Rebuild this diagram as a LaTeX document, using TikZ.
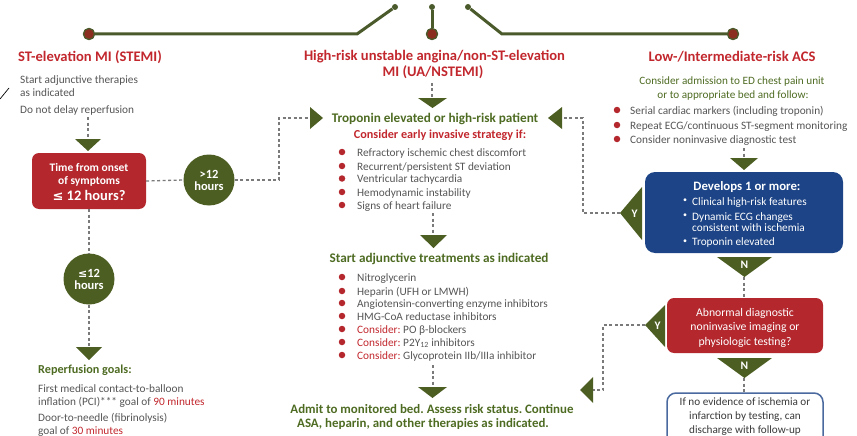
\documentclass[tikz,border=0pt]{standalone}
\usepackage{fontspec}
\setmainfont{Carlito}
\newfontfamily\dv{DejaVu Sans}
\usetikzlibrary{calc}
\definecolor{accred}{HTML}{C1272D}
\definecolor{boxred}{HTML}{B3272D}
\definecolor{olive}{HTML}{4C5E22}
\definecolor{lineolive}{HTML}{4B5A2B}
\definecolor{dotred}{HTML}{8B2E1F}
\definecolor{textgreen}{HTML}{4E6B22}
\definecolor{navy}{HTML}{1D4486}
\definecolor{graytext}{HTML}{555555}
\definecolor{darktext}{HTML}{3A3A3A}
\definecolor{dashgray}{HTML}{7A7A7A}
\frenchspacing
\begin{document}
\frenchspacing
\begin{tikzpicture}[x=1pt,y=-1pt,
  title/.style={font=\fontsize{14.6}{16}\selectfont\bfseries, text=accred, inner sep=0, anchor=base},
  body/.style={font=\fontsize{11.3}{13}\selectfont, text=graytext, inner sep=0, anchor=base west},
  rbody/.style={body, font=\fontsize{11.3}{13}\selectfont},
  gbody/.style={font=\fontsize{11.2}{13}\selectfont, text=textgreen, inner sep=0, anchor=base},
  ghead/.style={font=\fontsize{13.2}{15}\selectfont\bfseries, text=textgreen, inner sep=0, anchor=base},
  wtext/.style={font=\fontsize{11.7}{13}\selectfont, text=white, inner sep=0, anchor=base},
  btext/.style={font=\fontsize{11.3}{13}\selectfont, text=white, inner sep=0, anchor=base west},
  conn/.style={dashgray, line width=1.3pt, dash pattern=on 3pt off 2.5pt},
  tri/.style={fill=olive},
  bul/.style={fill=boxred, circle, inner sep=0, minimum size=6.5pt},
  gcirc/.style={circle, fill=olive, minimum size=51pt, inner sep=0, text=white, font=\fontsize{12.5}{12}\selectfont\bfseries, align=center},
  topline/.style={lineolive, line width=3pt},
  bigdot/.style={circle, fill=dotred, draw=lineolive, line width=1.2pt, minimum size=11pt, inner sep=0},
  smalldot/.style={circle, fill=lineolive, minimum size=6pt, inner sep=0},
  redbox/.style={fill=boxred, rounded corners=7pt, inner sep=0},
  bluebox/.style={fill=navy, rounded corners=10pt, inner sep=0},
  outbox/.style={draw=navy!80, line width=1.5pt, fill=white, rounded corners=9pt, inner sep=0}
]
\useasboundingbox (0,0) rectangle (857,436);

% stray mark
\coordinate (m1) at (0,99); \coordinate (m2) at (9,88);
\draw[black, line width=0.7pt] (m1) -- (m2);

% top connectors
\node[bigdot] (d1) at (89,34) {};
\node[bigdot] (d2) at (432,34) {};
\node[bigdot] (d3) at (733,34) {};
\node[smalldot] (s1) at (395,7) {};
\node[smalldot] (s2) at (432,7) {};
\node[smalldot] (s3) at (468,7) {};
\coordinate (k1) at (357,34); \coordinate (k3) at (502,34);
\draw[topline] (s1) -- (k1) -- (d1);
\draw[topline] (s2) -- (d2);
\draw[topline] (s3) -- (k3) -- (d3);
\node[bigdot] at (d1) {};
\node[bigdot] at (d2) {};
\node[bigdot] at (d3) {};

% ===== left column =====
\node[title] (stemi) at (90,62) {ST-elevation MI (STEMI)};
\node[body] (adj1) at (20,83.5) {Start adjunctive therapies};
\node[body] (adj2) at (20,96.5) {as indicated};
\node[body] (adj3) at (20,113.5) {Do not delay reperfusion};
\coordinate (a1s) at (88,117);
\coordinate (t1) at (88,139);
\draw[conn] (a1s) -- (t1);
\fill[tri] (75,139) -- (101,139) -- (88,151) -- cycle;

\node[redbox, minimum width=114pt, minimum height=56pt] (tbox) at (89,181) {};
\node[wtext, font=\fontsize{11.5}{12}\selectfont\bfseries] (tb1) at (89,171) {Time from onset};
\node[wtext, font=\fontsize{11.5}{12}\selectfont\bfseries] (tb2) at (89,184.5) {of symptoms};
\node[wtext, font=\fontsize{14.5}{16}\selectfont\bfseries] (tb3) at (89,200.5) {{\dv\bfseries\fontsize{13}{16}\selectfont ≤} 12 hours?};

\node[gcirc] (gt12) at (209,180) {>12\\hours};
\node[gcirc] (le12) at (89,279) {{\dv\bfseries\fontsize{11}{12}\selectfont ≤}12\\hours};

\coordinate (c1) at (279,180);
\coordinate (c2) at (279,118);
\coordinate (tl) at (310,118);
\draw[conn] (tbox.east) -- (gt12.west);
\draw[conn] (gt12.east) -- (c1) -- (c2) -- (tl);
\fill[tri] (310,107) -- (323,118) -- (310,129) -- cycle;

\draw[conn] (tbox.south) -- (le12.north);
\coordinate (t2) at (89,347);
\draw[conn] (le12.south) -- (t2);
\fill[tri] (76,347) -- (102,347) -- (89,360) -- cycle;

\node[ghead, anchor=base west, font=\fontsize{12.2}{15}\selectfont\bfseries] (rg) at (38,373.5) {Reperfusion goals:};
\node[body] (rg1) at (38,392) {First medical contact-to-balloon};
\node[body] (rg2) at (38,405.5) {inflation (PCI)*** goal of \textcolor{accred}{90 minutes}};
\node[body] (rg3) at (38,421.5) {Door-to-needle (fibrinolysis)};
\node[body] (rg4) at (38,434) {goal of \textcolor{accred}{30 minutes}};

% ===== middle column =====
\node[title] (ua1) at (434.5,60) {High-risk unstable angina/non-ST-elevation};
\node[title] (ua2) at (433,77) {MI (UA/NSTEMI)};
\coordinate (m0) at (432,83); \coordinate (t3) at (432,98);
\draw[conn] (m0) -- (t3);
\fill[tri] (418,98) -- (447,98) -- (432.5,108) -- cycle;

\node[ghead] (trop) at (435,122.5) {Troponin elevated or high-risk patient};
\node[ghead, font=\fontsize{12.2}{14}\selectfont\bfseries, text=accred] (cons) at (440,138) {Consider early invasive strategy if:};

\foreach \yy/\txt [count=\i] in {152/{Refractory ischemic chest discomfort},
  166/{Recurrent/persistent ST deviation},
  178.5/{Ventricular tachycardia},
  192/{Hemodynamic instability},
  205/{Signs of heart failure}} {
  \node[bul] (ba\i) at (342,\yy) {};
  \node[body] (la\i) at (357,\yy+4) {\txt};
}
\coordinate (m1s) at (433,213); \coordinate (t4) at (433,235);
\draw[conn] (m1s) -- (t4);
\fill[tri] (420,235) -- (447,235) -- (433.5,248) -- cycle;

\node[ghead] (sat) at (439,262) {Start adjunctive treatments as indicated};

\foreach \yy/\txt [count=\i] in {277/{Nitroglycerin},
  291/{Heparin (UFH or LMWH)},
  303/{Angiotensin-converting enzyme inhibitors},
  316/{HMG-CoA reductase inhibitors},
  329/{\textcolor{accred}{Consider:} PO β-blockers},
  342/{\textcolor{accred}{Consider:} P2Y\textsubscript{12} inhibitors},
  355/{\textcolor{accred}{Consider:} Glycoprotein IIb/IIIa inhibitor}} {
  \node[bul] (bb\i) at (342,\yy) {};
  \node[body] (lb\i) at (357,\yy+4) {\txt};
}
\coordinate (m2s) at (433,365); \coordinate (t5) at (433,387);
\draw[conn] (m2s) -- (t5);
\fill[tri] (418,387) -- (447,387) -- (432.5,398) -- cycle;

\node[ghead, font=\fontsize{12.9}{15}\selectfont\bfseries] (adm1) at (432,413) {Admit to monitored bed. Assess risk status. Continue};
\node[ghead, font=\fontsize{12.9}{15}\selectfont\bfseries] (adm2) at (423,427) {ASA, heparin, and other therapies as indicated.};

% ===== right column =====
\node[title] (low) at (732,62) {Low-/Intermediate-risk ACS};
\node[gbody] (ca1) at (732,84.5) {Consider admission to ED chest pain unit};
\node[gbody] (ca2) at (733,99) {or to appropriate bed and follow:};
\foreach \yy/\txt [count=\i] in {110/{Serial cardiac markers (including troponin)},
  125/{Repeat ECG/continuous ST-segment monitoring},
  139/{Consider noninvasive diagnostic test}} {
  \node[bul] (bc\i) at (617,\yy) {};
  \node[rbody] (lc\i) at (630,\yy+4) {\txt};
}
\coordinate (r0) at (744,148); \coordinate (t6) at (744,158);
\draw[conn] (r0) -- (t6);
\fill[tri] (730,158) -- (758,158) -- (744,170) -- cycle;

\node[bluebox, minimum width=198pt, minimum height=81pt] (dev) at (744,212.5) {};
\node[wtext, font=\fontsize{12.8}{14}\selectfont\bfseries] (dev0) at (747,190) {Develops 1 or more:};
\foreach \yy/\txt [count=\i] in {201/{Clinical high-risk features},
  216/{Dynamic ECG changes},
  227/{consistent with ischemia},
  241.5/{Troponin elevated}} {
  \node[btext] (ld\i) at (692,\yy+4) {\txt};
}
\foreach \yy [count=\i] in {201,216,241.5} {
  \node[wtext, font=\fontsize{8}{10}\selectfont] (bd\i) at (685,\yy+1.5) {•};
}

% Y branch 1
\coordinate (y1) at (620,213);
\fill[tri] (642,187) -- (620,213) -- (642,240) -- cycle;
\node[wtext, font=\fontsize{11.5}{12}\selectfont\bfseries] (y1l) at (634.5,217) {Y};
\coordinate (y1a) at (583,213); \coordinate (y1b) at (583,118); \coordinate (tr) at (562,118);
\draw[conn] (y1) -- (y1a) -- (y1b) -- (tr);
\fill[tri] (562,107) -- (548,118) -- (562,129) -- cycle;

% N 1
\fill[tri] (717,257) -- (772,257) -- (744.5,277) -- cycle;
\node[wtext, font=\fontsize{11.5}{12}\selectfont\bfseries] (n1l) at (744.5,268.5) {N};
\coordinate (n1) at (744,277);

\node[redbox, minimum width=156pt, minimum height=55pt] (abn) at (745,325.5) {};
\draw[conn] (n1) -- (abn.north -| n1);
\node[wtext] (ab1) at (745,316) {Abnormal diagnostic};
\node[wtext] (ab2) at (745,330) {noninvasive imaging or};
\node[wtext] (ab3) at (745,345) {physiologic testing?};

% Y branch 2
\coordinate (y2) at (645,325);
\fill[tri] (665,305) -- (645,325) -- (665,347) -- cycle;
\node[wtext, font=\fontsize{11.5}{12}\selectfont\bfseries] (y2l) at (657.5,329.5) {Y};
\coordinate (y2a) at (603,325); \coordinate (y2b) at (603,390); \coordinate (tb) at (593,390);
\draw[conn] (y2) -- (y2a) -- (y2b) -- (tb);
\fill[tri] (593,377) -- (580,390) -- (593,403) -- cycle;

% N 2
\fill[tri] (717,358) -- (772,358) -- (744.5,378) -- cycle;
\node[wtext, font=\fontsize{11.5}{12}\selectfont\bfseries] (n2l) at (744.5,369.5) {N};
\coordinate (n2) at (744,378);

\begin{scope}
\clip (0,0) rectangle (857,436);
\node[outbox, minimum width=156pt, minimum height=60pt] (dis) at (745,423) {};
\end{scope}
\draw[conn] (n2) -- (744,393);
\node[wtext, text=darktext, font=\fontsize{11.2}{13}\selectfont] (di1) at (745,405) {If no evidence of ischemia or};
\node[wtext, text=darktext, font=\fontsize{11.2}{13}\selectfont] (di2) at (745,419.5) {infarction by testing, can};
\node[wtext, text=darktext, font=\fontsize{11.2}{13}\selectfont] (di3) at (745,433) {discharge with follow-up};
\end{tikzpicture}
\end{document}
